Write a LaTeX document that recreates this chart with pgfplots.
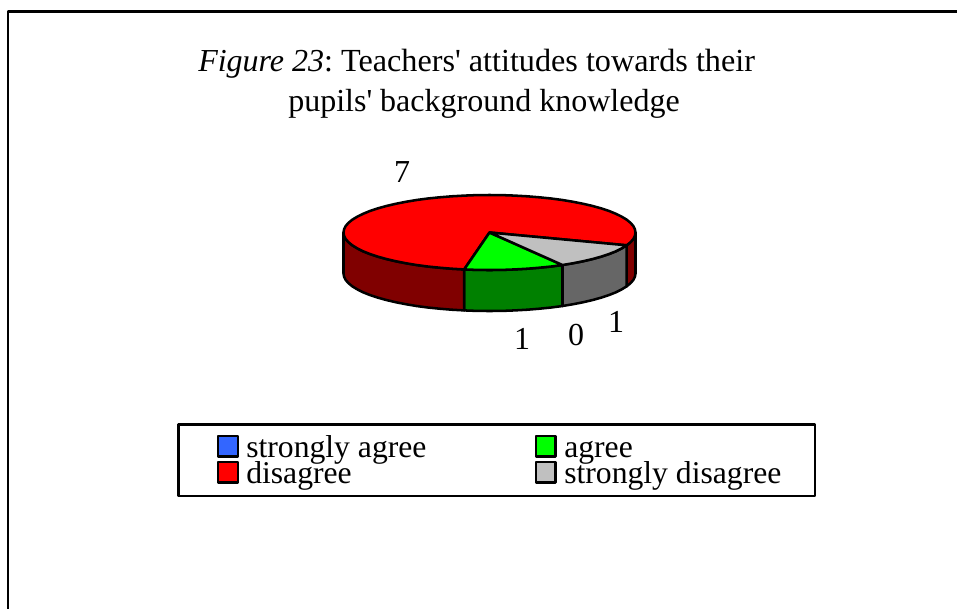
\documentclass[border=0pt]{standalone}
\usepackage{pgfplots}
\pgfplotsset{compat=1.18}
\usepackage{fontspec}
\newfontfamily\tf{Liberation Serif}
\definecolor{cdarkred}{HTML}{800000}
\definecolor{cgreen}{HTML}{008000}
\definecolor{cgrey}{HTML}{666666}
\definecolor{clight}{HTML}{C0C0C0}
\definecolor{cblue}{HTML}{3366FF}
\definecolor{clime}{HTML}{00FF00}
\begin{document}
\begin{tikzpicture}
\path[use as bounding box] (0,0) rectangle (717.75pt,456pt);
\begin{axis}[at={(0,0)},anchor=south west,scale only axis,width=717.75pt,height=456pt,
  xmin=0,xmax=957,ymin=0,ymax=608,y dir=reverse,hide axis,clip=true,
  every axis plot/.append style={line join=round}]
% frame
\addplot[black,line width=1.9pt] coordinates {(8,612)(8,11.5)(960,11.5)};
% side walls
\addplot[fill=cdarkred,draw=black,line width=1.9pt] coordinates {(635.5,232.5)(634.9,235.8)(633.3,239.0)(630.5,242.2)(626.7,245.3)(626.7,286.3)(630.5,283.2)(633.3,280.0)(634.9,276.8)(635.5,273.5)} -- cycle;
\addplot[fill=cgrey,draw=black,line width=1.9pt] coordinates {(626.7,245.3)(621.8,248.3)(615.9,251.3)(609.1,254.0)(601.3,256.6)(592.7,259.0)(583.3,261.2)(573.2,263.2)(562.5,265.0)(562.5,306.0)(573.2,304.2)(583.3,302.2)(592.7,300.0)(601.3,297.6)(609.1,295.0)(615.9,292.3)(621.8,289.3)(626.7,286.3)} -- cycle;
\addplot[fill=cgreen,draw=black,line width=1.9pt] coordinates {(562.5,265.0)(551.2,266.5)(539.4,267.7)(527.3,268.7)(514.8,269.4)(502.2,269.9)(489.5,270)(476.8,269.9)(464.2,269.4)(464.2,310.4)(476.8,310.9)(489.5,311)(502.2,310.9)(514.8,310.4)(527.3,309.7)(539.4,308.7)(551.2,307.5)(562.5,306.0)} -- cycle;
\addplot[fill=cdarkred,draw=black,line width=1.9pt] coordinates {(464.2,269.4)(451.7,268.7)(439.6,267.7)(427.8,266.5)(416.5,265.0)(405.8,263.2)(395.7,261.2)(386.3,259.0)(377.7,256.6)(369.9,254.0)(363.1,251.3)(357.2,248.3)(352.3,245.3)(348.5,242.2)(345.7,239.0)(344.1,235.8)(343.5,232.5)(343.5,273.5)(344.1,276.8)(345.7,280.0)(348.5,283.2)(352.3,286.3)(357.2,289.3)(363.1,292.3)(369.9,295.0)(377.7,297.6)(386.3,300.0)(395.7,302.2)(405.8,304.2)(416.5,306.0)(427.8,307.5)(439.6,308.7)(451.7,309.7)(464.2,310.4)} -- cycle;
% top: disagree
\addplot[fill=red,draw=black,line width=1.9pt] coordinates {(489.5,232.5)(464.2,269.4)(451.7,268.7)(439.6,267.7)(427.8,266.5)(416.5,265.0)(405.8,263.2)(395.7,261.2)(386.3,259.0)(377.7,256.6)(369.9,254.0)(363.1,251.3)(357.2,248.3)(352.3,245.3)(348.5,242.2)(345.7,239.0)(344.1,235.8)(343.5,232.5)(344.1,229.2)(345.7,226.0)(348.5,222.8)(352.3,219.7)(357.2,216.7)(363.1,213.8)(369.9,211.0)(377.7,208.4)(386.3,206.0)(395.7,203.8)(405.8,201.8)(416.5,200.0)(427.8,198.5)(439.6,197.3)(451.7,196.3)(464.2,195.6)(476.8,195.1)(489.5,195)(502.2,195.1)(514.8,195.6)(527.3,196.3)(539.4,197.3)(551.2,198.5)(562.5,200.0)(573.2,201.8)(583.3,203.8)(592.7,206.0)(601.3,208.4)(609.1,211.0)(615.9,213.8)(621.8,216.7)(626.7,219.7)(630.5,222.8)(633.3,226.0)(634.9,229.2)(635.5,232.5)(634.9,235.8)(633.3,239.0)(630.5,242.2)(626.7,245.3)} -- cycle;
% top: agree
\addplot[fill=clime,draw=black,line width=1.9pt] coordinates {(489.5,232.5)(562.5,265.0)(551.2,266.5)(539.4,267.7)(527.3,268.7)(514.8,269.4)(502.2,269.9)(489.5,270)(476.8,269.9)(464.2,269.4)} -- cycle;
% top: strongly disagree
\addplot[fill=clight,draw=black,line width=1.9pt] coordinates {(489.5,232.5)(626.7,245.3)(621.8,248.3)(615.9,251.3)(609.1,254.0)(601.3,256.6)(592.7,259.0)(583.3,261.2)(573.2,263.2)(562.5,265.0)} -- cycle;
% legend
\addplot[fill=white,draw=black,line width=1.9pt] coordinates {(178.5,424.5)(815,424.5)(815,496)(178.5,496)} -- cycle;
\addplot[fill=cblue,draw=black,line width=1.9pt] coordinates {(218,436)(238,436)(238,456.5)(218,456.5)} -- cycle;
\addplot[fill=red,draw=black,line width=1.9pt] coordinates {(218,462)(238,462)(238,482.5)(218,482.5)} -- cycle;
\addplot[fill=clime,draw=black,line width=1.9pt] coordinates {(536,436)(555.5,436)(555.5,456.5)(536,456.5)} -- cycle;
\addplot[fill=clight,draw=black,line width=1.9pt] coordinates {(536,462)(555.5,462)(555.5,482.5)(536,482.5)} -- cycle;
\newcommand\T[3]{\node[anchor=base west,inner sep=0pt,font=\tf\fontsize{23.75}{24}\selectfont] at (axis cs:#1,#2) {#3};}
\newcommand\V[3]{\node[anchor=base,inner sep=0pt,font=\tf\fontsize{24}{24}\selectfont] at (axis cs:#1,#2) {#3};}
\T{246}{457}{strongly agree}
\T{246}{483}{disagree}
\T{564}{457}{agree}
\T{564}{483}{strongly disagree}
\V{402}{182}{7}
\V{522}{349}{1}
\V{576}{345}{0}
\V{616}{332}{1}
\node[anchor=base west,inner sep=0pt,font=\tf\fontsize{24}{24}\selectfont] at (axis cs:198,71) {\frenchspacing{\itshape Figure 23}: \fontsize{24.15}{24}\selectfont Teachers' attitudes towards their};
\node[anchor=base,inner sep=0pt,font=\tf\fontsize{24}{24}\selectfont] at (axis cs:484,111) {pupils' background knowledge};
\end{axis}
\end{tikzpicture}
\end{document}
